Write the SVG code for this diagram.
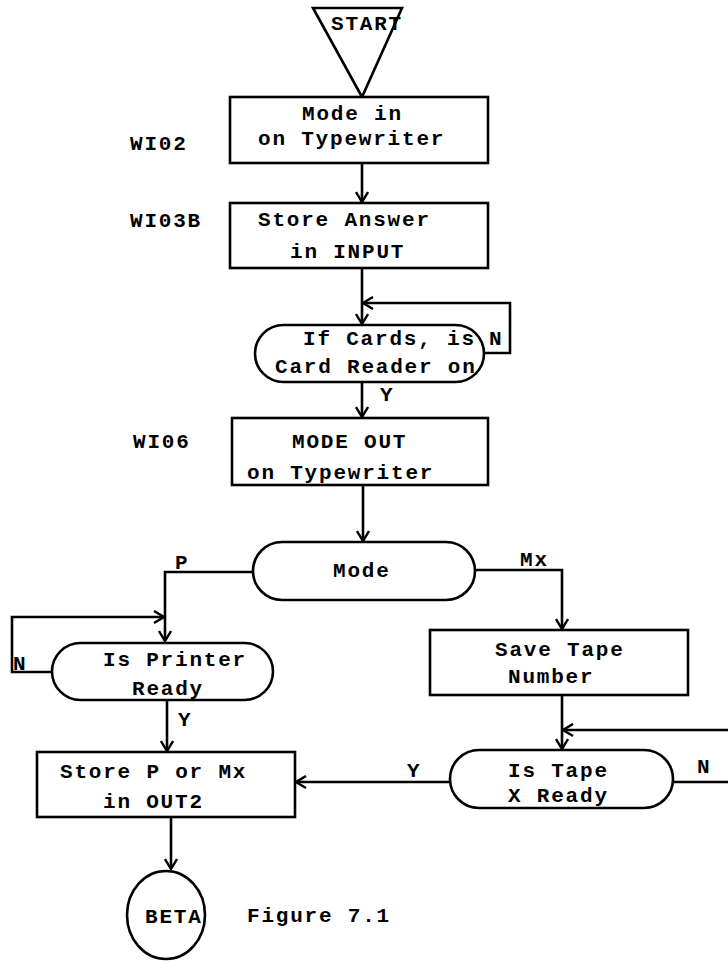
<svg xmlns="http://www.w3.org/2000/svg" width="728" height="961" viewBox="0 0 728 961">
<defs>
<style>
.s{fill:none;stroke:#000;stroke-width:2.6;stroke-linejoin:round}
.n{fill:#fff;stroke:#000;stroke-width:2.6}
.c{fill:none;stroke:#000;stroke-width:2.6}
text{font-family:"Liberation Mono","DejaVu Sans Mono",monospace;font-weight:bold;font-size:21px;letter-spacing:1.8px;fill:#000}
</style>
<marker id="ah" markerWidth="14" markerHeight="14" refX="12" refY="7" orient="auto" markerUnits="userSpaceOnUse">
<path d="M2,1 L12,7 L2,13" fill="none" stroke="#000" stroke-width="2.4"/>
</marker>
</defs>
<rect width="728" height="961" fill="#fff"/>
<g id="connectors">
<path class="c" d="M362,163 V202" marker-end="url(#ah)"/>
<path class="c" d="M362,268 V324" marker-end="url(#ah)"/>
<path class="c" d="M484,353 H510 V303 H363" marker-end="url(#ah)"/>
<path class="c" d="M362,382 V417" marker-end="url(#ah)"/>
<path class="c" d="M363,485 V541" marker-end="url(#ah)"/>
<path class="c" d="M253,572 H165 V641" marker-end="url(#ah)"/>
<path class="c" d="M52,672 H12 V617 H164" marker-end="url(#ah)"/>
<path class="c" d="M167,700 V751" marker-end="url(#ah)"/>
<path class="c" d="M171,817 V869" marker-end="url(#ah)"/>
<path class="c" d="M475,570 H562 V629" marker-end="url(#ah)"/>
<path class="c" d="M562,695 V749" marker-end="url(#ah)"/>
<path class="c" d="M728,730 H563" marker-end="url(#ah)"/>
<path class="c" d="M450,782 H296" marker-end="url(#ah)"/>
<path class="c" d="M673,782 H728"/>
<text x="380" y="401">Y</text>
<text x="175" y="569">P</text>
<text x="520" y="566">Mx</text>
<text x="13" y="670">N</text>
<text x="178" y="726">Y</text>
<text x="407" y="777">Y</text>
<text x="697" y="773">N</text>
<text x="489" y="345">N</text>
</g>
<g id="start">
<path class="n" d="M313,8 H402 L362,97 Z"/>
<text x="331" y="30">START</text>
</g>
<g id="wi02"><text x="130" y="150">WI02</text></g>
<g id="wi03b"><text x="130" y="227">WI03B</text></g>
<g id="wi06"><text x="133" y="448">WI06</text></g>
<g id="mode-in">
<rect class="n" x="230" y="97" width="258" height="66"/>
<text x="302" y="120">Mode in</text>
<text x="258" y="145">on Typewriter</text>
</g>
<g id="store-answer">
<rect class="n" x="230" y="203" width="258" height="65"/>
<text x="258" y="226">Store Answer</text>
<text x="290" y="258">in INPUT</text>
</g>
<g id="card-reader">
<path class="n" d="M283.5,325 H455.5 A28.5,28.5 0 0 1 455.5,382 H283.5 A28.5,28.5 0 0 1 283.5,325 Z"/>
<text x="303" y="345">If Cards, is</text>
<text x="275" y="373">Card Reader on</text>
</g>
<g id="mode-out">
<rect class="n" x="232" y="418" width="256" height="67"/>
<text x="292" y="448">MODE OUT</text>
<text x="247" y="479">on Typewriter</text>
</g>
<g id="mode">
<rect class="n" x="253" y="542" width="222" height="58" rx="29" ry="29"/>
<text x="333" y="577">Mode</text>
</g>
<g id="printer">
<rect class="n" x="52" y="643" width="221" height="57" rx="28.5" ry="28.5"/>
<text x="103" y="666">Is Printer</text>
<text x="132" y="695">Ready</text>
</g>
<g id="save-tape">
<rect class="n" x="430" y="630" width="258" height="65"/>
<text x="495" y="656">Save Tape</text>
<text x="508" y="683">Number</text>
</g>
<g id="tape-ready">
<rect class="n" x="450" y="750" width="223" height="58" rx="29" ry="29"/>
<text x="508" y="777">Is Tape</text>
<text x="508" y="802">X Ready</text>
</g>
<g id="store-p">
<rect class="n" x="37" y="752" width="258" height="65"/>
<text x="60" y="778">Store P or Mx</text>
<text x="103" y="808">in OUT2</text>
</g>
<g id="beta">
<ellipse class="n" cx="166" cy="915" rx="39" ry="44"/>
<text x="145" y="923">BETA</text>
</g>
<g id="caption"><text x="247" y="922">Figure 7.1</text></g>
</svg>
